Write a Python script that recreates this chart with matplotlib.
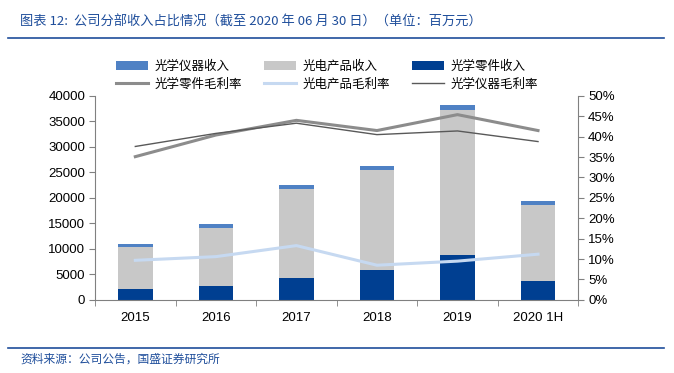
import matplotlib
matplotlib.use("Agg")
import matplotlib.pyplot as plt
import numpy as np
from matplotlib.lines import Line2D

plt.rcParams['font.family'] = ['Noto Sans CJK SC', 'DejaVu Sans']

# ----- data (百万元 / %) -----
years = ["2015", "2016", "2017", "2018", "2019", "2020 1H"]
parts_rev = [2100, 2800, 4200, 5900, 8800, 3800]          # 光学零件收入
optoelec_rev = [8200, 11300, 17600, 19600, 28400, 14800]  # 光电产品收入
instr_rev = [700, 700, 800, 700, 1000, 700]               # 光学仪器收入
parts_margin = [35.1, 40.4, 44.0, 41.5, 45.4, 41.5]       # 光学零件毛利率
optoelec_margin = [9.7, 10.6, 13.3, 8.5, 9.5, 11.2]       # 光电产品毛利率
instr_margin = [37.6, 40.8, 43.3, 40.5, 41.4, 38.8]       # 光学仪器毛利率

C_DARK = "#003f91"
C_GRAY = "#c8c8c8"
C_BLUE = "#4f81c4"
C_TITLE = "#1f4e9b"

fig = plt.figure(figsize=(6.74, 3.73), dpi=100)
ax = fig.add_axes([0.141, 0.196, 0.717, 0.547])
ax2 = ax.twinx()

x = np.arange(len(years))
w = 0.43
b1 = ax.bar(x, parts_rev, w, color=C_DARK, zorder=2)
b2 = ax.bar(x, optoelec_rev, w, bottom=parts_rev, color=C_GRAY, zorder=2)
bottom3 = np.array(parts_rev) + np.array(optoelec_rev)
b3 = ax.bar(x, instr_rev, w, bottom=bottom3, color=C_BLUE, zorder=2)

l1, = ax2.plot(x, parts_margin, color="#8c8c8c", lw=2.2)
l2, = ax2.plot(x, optoelec_margin, color="#c6d9f1", lw=2.2)
l3, = ax2.plot(x, instr_margin, color="#595959", lw=1.0)

ax.set_xlim(-0.5, len(years) - 0.5)
ax.set_ylim(0, 40000)
ax.set_yticks(np.arange(0, 40001, 5000))
ax2.set_ylim(0, 50)
ax2.set_yticks(np.arange(0, 51, 5))
ax2.set_yticklabels([f"{v}%" for v in range(0, 51, 5)])

ax.set_xticks(x)
ax.set_xticklabels(years)
ax.set_xticks(np.arange(-0.5, len(years)), minor=True)
ax.tick_params(axis="x", which="major", length=0, pad=9)
ax.tick_params(axis="x", which="minor", length=4, color="#808080")

tick_family = ['Liberation Sans', 'DejaVu Sans']
for lab in ax.get_xticklabels() + ax.get_yticklabels() + ax2.get_yticklabels():
    lab.set_fontfamily(tick_family)
    lab.set_fontsize(9.5)
ax.tick_params(axis="y", length=4, color="#808080", pad=3)
ax2.tick_params(axis="y", length=4, color="#808080", pad=3)

for a in (ax, ax2):
    a.spines["top"].set_visible(False)
    for s in ("left", "right", "bottom"):
        a.spines[s].set_color("#808080")
ax2.spines["left"].set_visible(False)
ax2.spines["bottom"].set_visible(False)
ax.spines["right"].set_visible(False)

# legend (filled column-wise, so ordered to read row-wise)
handles = [b3, l1, b2, l2, b1, l3]
labels = ["光学仪器收入", "光学零件毛利率", "光电产品收入", "光电产品毛利率",
          "光学零件收入", "光学仪器毛利率"]
fig.legend(handles, labels, ncol=3, loc="upper left", bbox_to_anchor=(0.155, 0.87),
           frameon=False, fontsize=9, handlelength=2.6, handleheight=0.8,
           columnspacing=1.75, labelspacing=0.4, handletextpad=0.5)

# title, rules, source
fig.text(0.03, 0.94, "图表 12:  公司分部收入占比情况（截至 2020 年 06 月 30 日）（单位：百万元）",
         color=C_TITLE, fontsize=9.5, va="center", ha="left")
fig.add_artist(Line2D([0.012, 0.985], [0.897, 0.897], color=C_TITLE, lw=1.2))
fig.add_artist(Line2D([0.012, 0.985], [0.068, 0.068], color=C_TITLE, lw=1.2))
fig.text(0.03, 0.038, "资料来源：公司公告，国盛证券研究所", color=C_TITLE,
         fontsize=8.5, va="center", ha="left")

fig.savefig("out.png", dpi=100)
